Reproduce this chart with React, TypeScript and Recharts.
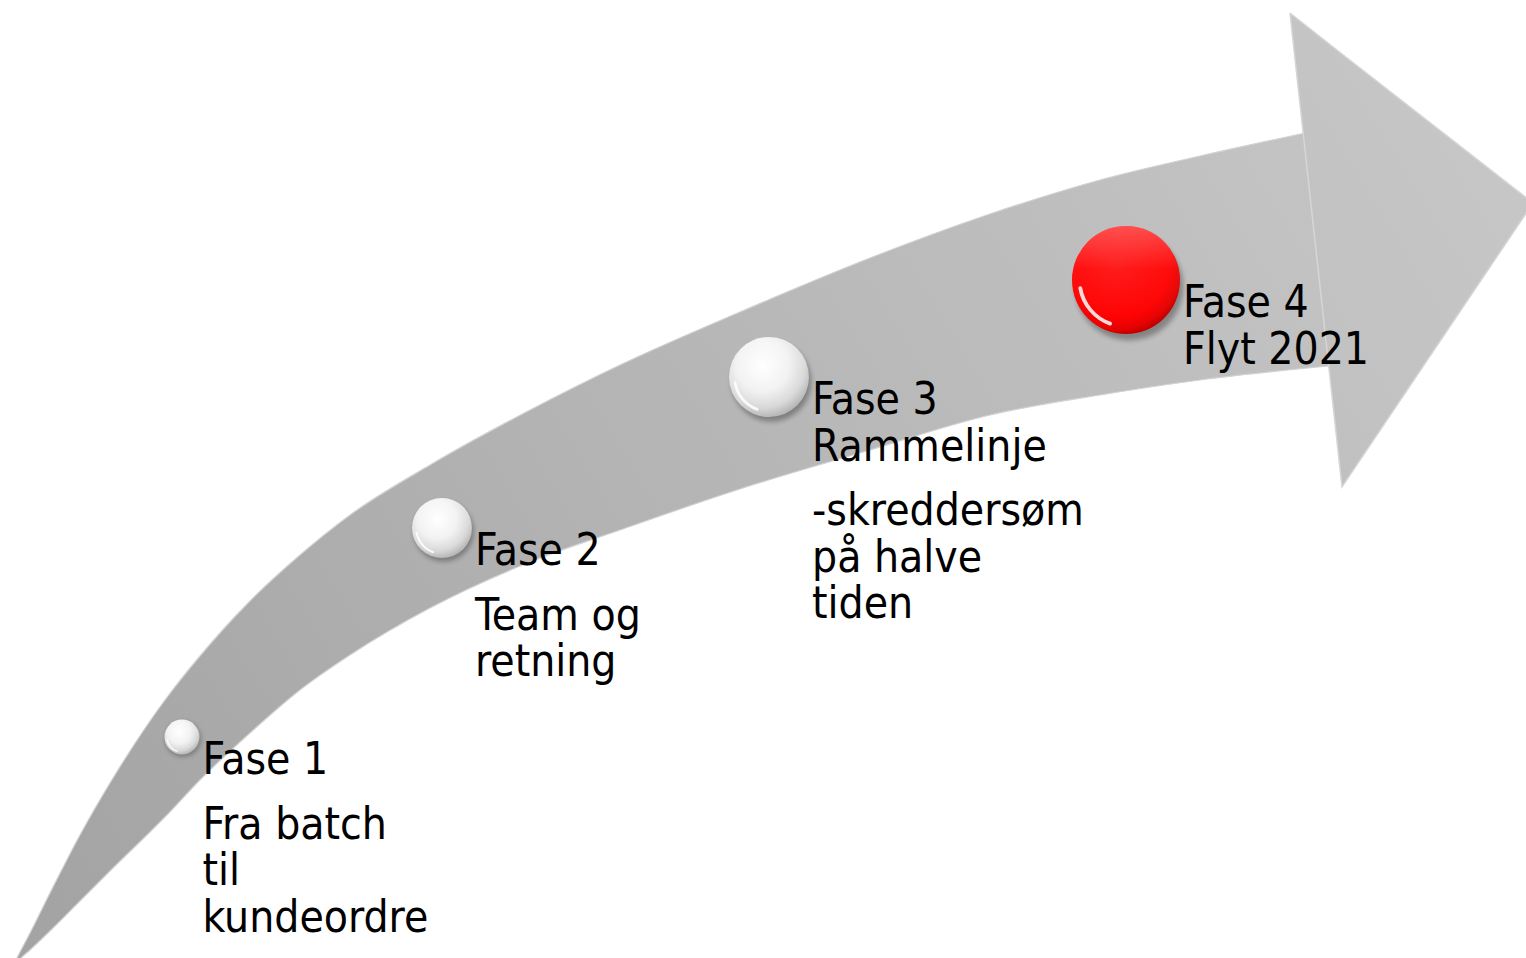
import { ComposedChart, Area, Scatter, XAxis, YAxis } from 'recharts'

const W = 1526
const H = 958

const shaftX = [12, 20, 30, 50, 80, 110, 150, 165, 200, 250, 300, 350, 430, 530, 620, 740, 870, 990, 1100, 1200, 1329]
const shaftTop = [968, 952, 933, 893, 835, 783, 721, 700, 656, 601, 555, 515, 465, 410, 365, 312, 258, 214, 180, 156, 128]
const shaftBottom = [968, 959, 950, 931, 901, 871, 832, 817, 780, 733, 690, 655, 608, 562, 530, 489, 450, 415, 395, 380, 366]

// Arrow head: left notch, lower barb, tip
const headX = [1290, 1342, 1533]
const headTop = [13, 54, 203]
const headBottom = [13, 487, 203]

// Phases along the arrow
const phaseTitles = ['Fase 1', 'Fase 2', 'Fase 3', 'Fase 4']
const phaseX = [182, 442, 769, 1126]
const phaseY = [737, 528, 377, 280]
const phaseR = [17.5, 30, 40, 54]
// '' = paragraph break
const phaseLines = [
  ['', 'Fra batch', 'til', 'kundeordre'],
  ['', 'Team og', 'retning'],
  ['Rammelinje', '', '-skreddersøm', 'på halve', 'tiden'],
  ['Flyt 2021'],
]
const ACTIVE = 3

const shaftData = shaftX.map((x, i) => ({ x, range: [shaftTop[i], shaftBottom[i]] }))
const headData = headX.map((x, i) => ({ x, range: [headTop[i], headBottom[i]] }))
const phaseData = phaseTitles.map((title, i) => ({
  x: phaseX[i],
  y: phaseY[i],
  r: phaseR[i],
  title,
  lines: phaseLines[i],
  active: i === ACTIVE,
}))

const FONT = '"DejaVu Sans Condensed", "DejaVu Sans", sans-serif'
const FONT_SIZE = 44
const LINE_H = 46.5
const PARA_GAP = 18

function Bead(props: any) {
  const { cx, cy, payload } = props
  if (cx == null || cy == null) return null
  const r = payload.r
  const fill = payload.active ? 'url(#beadRed)' : 'url(#beadWhite)'

  // reflection arc on the lower-left rim
  const a0 = (110 * Math.PI) / 180
  const a1 = (170 * Math.PI) / 180
  const rr = r * 0.86
  const arc = `M ${cx + rr * Math.cos(a0)} ${cy + rr * Math.sin(a0)} A ${rr} ${rr} 0 0 1 ${cx + rr * Math.cos(a1)} ${cy + rr * Math.sin(a1)}`

  let y = cy + 37
  const textX = cx + r + 3
  const rows: { text: string; y: number }[] = [{ text: payload.title, y }]
  payload.lines.forEach((t: string) => {
    if (t === '') {
      y += PARA_GAP
      return
    }
    y += LINE_H
    rows.push({ text: t, y })
  })

  return (
    <g>
      <circle cx={cx + r * 0.06} cy={cy + r * 0.12} r={r} fill="#000" opacity={0.3} filter="url(#beadShadow)" />
      <circle cx={cx} cy={cy} r={r} fill={fill} />
      <circle cx={cx} cy={cy} r={r} fill="url(#beadShine)" />
      <path d={arc} stroke="#ffffff" strokeWidth={Math.max(1.5, r * 0.07)} fill="none" strokeLinecap="round" opacity={0.85} />
      {rows.map((row, i) => (
        <text
          key={i}
          x={textX}
          y={row.y}
          fontFamily={FONT}
          fontSize={FONT_SIZE}
          fill="#000"
          style={{ fontStretch: 'condensed' }}
        >
          {row.text}
        </text>
      ))}
    </g>
  )
}

export default function App() {
  return (
    <div style={{ position: 'absolute', left: 0, top: 0, width: W, height: H, background: '#fff' }}>
      <ComposedChart width={W} height={H} margin={{ top: 0, right: 0, bottom: 0, left: 0 }}>
        <defs>
          <linearGradient id="arrowFill" gradientUnits="userSpaceOnUse" x1={80} y1={950} x2={1450} y2={120}>
            <stop offset="0%" stopColor="#a4a4a4" />
            <stop offset="45%" stopColor="#b4b4b4" />
            <stop offset="100%" stopColor="#c6c6c6" />
          </linearGradient>
          <radialGradient id="beadWhite" cx="42%" cy="36%" r="64%">
            <stop offset="0%" stopColor="#ffffff" />
            <stop offset="50%" stopColor="#f2f2f2" />
            <stop offset="82%" stopColor="#d8d8d8" />
            <stop offset="100%" stopColor="#b8b8b8" />
          </radialGradient>
          <radialGradient id="beadRed" cx="42%" cy="36%" r="64%">
            <stop offset="0%" stopColor="#ff1010" />
            <stop offset="75%" stopColor="#ff0000" />
            <stop offset="93%" stopColor="#e60000" />
            <stop offset="100%" stopColor="#c40000" />
          </radialGradient>
          <linearGradient id="beadShine" x1="0" y1="0" x2="0" y2="1">
            <stop offset="0%" stopColor="#ffffff" stopOpacity={0.3} />
            <stop offset="40%" stopColor="#ffffff" stopOpacity={0.05} />
            <stop offset="100%" stopColor="#ffffff" stopOpacity={0} />
          </linearGradient>
          <filter id="beadShadow" x="-50%" y="-50%" width="200%" height="200%">
            <feGaussianBlur stdDeviation="2.5" />
          </filter>
        </defs>
        <XAxis type="number" dataKey="x" domain={[0, W]} allowDataOverflow hide />
        <YAxis type="number" domain={[0, H]} reversed allowDataOverflow hide />
        <Area
          data={shaftData}
          dataKey="range"
          type="monotone"
          fill="url(#arrowFill)"
          fillOpacity={1}
          stroke="#d2d2d2"
          strokeWidth={1.2}
          isAnimationActive={false}
          dot={false}
          activeDot={false}
        />
        <Area
          data={headData}
          dataKey="range"
          type="linear"
          fill="url(#arrowFill)"
          fillOpacity={1}
          stroke="#d6d6d6"
          strokeWidth={1.5}
          isAnimationActive={false}
          dot={false}
          activeDot={false}
        />
        <Scatter data={phaseData} dataKey="y" shape={<Bead />} isAnimationActive={false} />
      </ComposedChart>
    </div>
  )
}
